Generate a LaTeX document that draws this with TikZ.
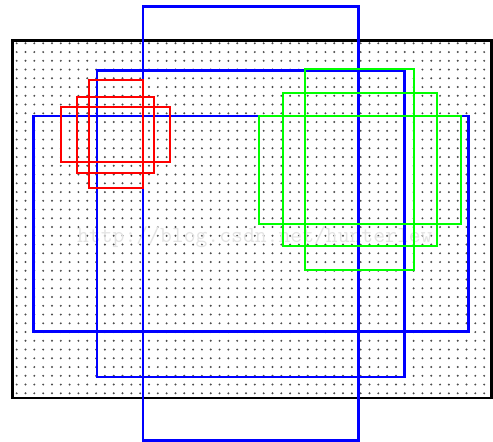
\documentclass[tikz,border=0pt]{standalone}
\begin{document}
\begin{tikzpicture}[x=1pt,y=-1pt,
  bluebox/.style={draw={rgb,255:red,0;green,0;blue,255},line width=2.2pt},
  redbox/.style={draw={rgb,255:red,255;green,0;blue,0},line width=2pt},
  greenbox/.style={draw={rgb,255:red,0;green,255;blue,0},line width=2pt},
  framebox/.style={draw=black,line width=2.6pt},
  gdot/.style={fill=black!70},
  wm/.style={text=black!11,font=\ttfamily\fontsize{23}{25}\selectfont,inner sep=0pt}]
\useasboundingbox (0,0) rectangle (493,442);
% dot grid
\foreach \i in {0,...,53}{
  \foreach \j in {0,...,40}{
    \fill[gdot] ({16.7+\i*8.82},{43.3+\j*8.75}) circle (1.1);
  }
}
% watermark
\node[wm,anchor=west] (wmark) at (77,237) {http://blog.csdn.net/hunterlew};
% frame
\draw[framebox] (12.5,40.5) rectangle (491.5,398);
% blue boxes
\draw[bluebox] (143,6.5) rectangle (358.5,440.5);
\draw[bluebox] (97,70.5) rectangle (404.5,377);
\draw[bluebox] (33.5,116) rectangle (468.5,331.5);
% red boxes
\draw[redbox] (88.5,80) rectangle (142.5,188);
\draw[redbox] (77,97) rectangle (154,172.5);
\draw[redbox] (61,107) rectangle (170,162);
% green boxes
\draw[greenbox] (304.5,69) rectangle (413.5,270);
\draw[greenbox] (282.5,92.5) rectangle (436.5,245.5);
\draw[greenbox] (258.5,116) rectangle (461,223.5);
\end{tikzpicture}
\end{document}
